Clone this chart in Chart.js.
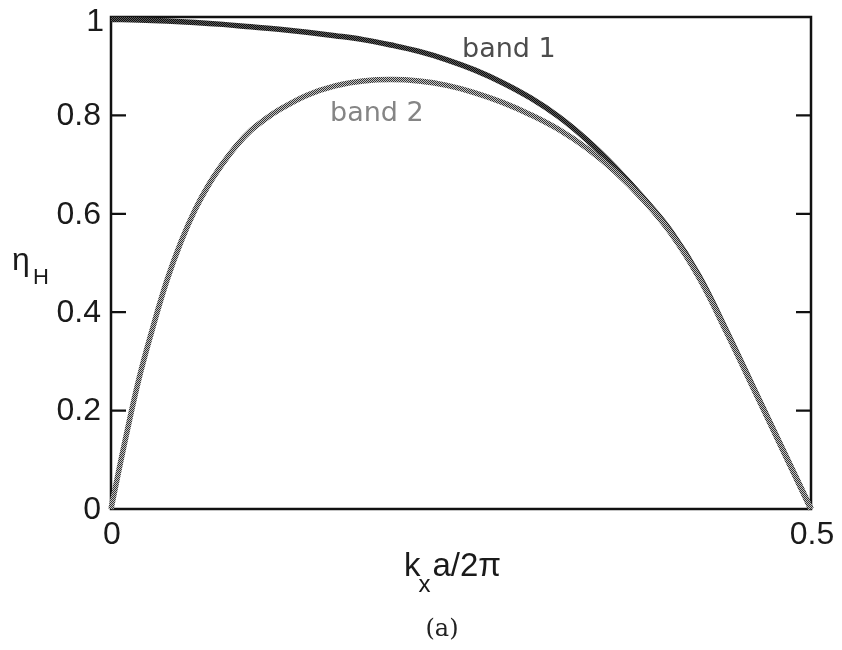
<!DOCTYPE html>
<html>
<head>
<meta charset="utf-8">
<title>eta_H vs kx</title>
<script src="https://cdn.jsdelivr.net/npm/chart.js@4.4.1/dist/chart.umd.min.js"></script>
<style>
  html, body { margin: 0; padding: 0; background: #fff; }
  canvas { display: block; }
</style>
</head>
<body>
<canvas id="plot" width="842" height="650"></canvas>
<script>
// kx a / 2pi sample positions and the two band curves
const band1X = [0, 0.02, 0.04, 0.06, 0.08, 0.10, 0.12, 0.14, 0.16, 0.18, 0.20, 0.22, 0.24, 0.26, 0.28, 0.30, 0.32, 0.34, 0.36, 0.38, 0.40, 0.42, 0.44, 0.46, 0.48, 0.50];
const band1Y = [0.995, 0.994, 0.992, 0.989, 0.985, 0.980, 0.975, 0.969, 0.962, 0.954, 0.943, 0.930, 0.913, 0.892, 0.866, 0.835, 0.797, 0.750, 0.695, 0.633, 0.564, 0.474, 0.360, 0.240, 0.120, 0];

const band2X = [0, 0.01, 0.02, 0.03, 0.04, 0.05, 0.06, 0.07, 0.08, 0.09, 0.10, 0.11, 0.12, 0.14, 0.16, 0.18, 0.20, 0.22, 0.24, 0.26, 0.28, 0.30, 0.32, 0.34, 0.36, 0.38, 0.40, 0.42, 0.44, 0.46, 0.48, 0.50];
const band2Y = [0, 0.138, 0.265, 0.370, 0.465, 0.543, 0.608, 0.660, 0.703, 0.740, 0.770, 0.792, 0.811, 0.841, 0.860, 0.870, 0.873, 0.870, 0.861, 0.846, 0.826, 0.801, 0.771, 0.733, 0.686, 0.629, 0.560, 0.470, 0.357, 0.238, 0.119, 0];

const xTicks = [0, 0.5];
const xTickLabels = ['0', '0.5'];
const yTicks = [0, 0.2, 0.4, 0.6, 0.8, 1];
const yTickLabels = ['0', '0.2', '0.4', '0.6', '0.8', '1'];

const SANS = '"Liberation Sans", Arial, sans-serif';
const LABEL_FONT = '"DejaVu Sans", sans-serif';

function toPoints(xs, ys) {
    return xs.map((x, i) => ({ x: x, y: ys[i] }));
}

// small checker tile so the curves get a printed, screened look
function halftone(ink, paper) {
    const c = document.createElement('canvas');
    c.width = 2;
    c.height = 2;
    const g = c.getContext('2d');
    g.fillStyle = paper;
    g.fillRect(0, 0, 2, 2);
    g.fillStyle = ink;
    g.fillRect(0, 0, 1, 1);
    g.fillRect(1, 1, 1, 1);
    return g.createPattern(c, 'repeat');
}

const framePlugin = {
    id: 'frame',
    beforeDatasetsDraw(chart) {
        const { ctx, chartArea: a } = chart;
        const ys = chart.scales.y;
        ctx.save();
        ctx.strokeStyle = '#111';
        ctx.lineWidth = 2.5;
        ctx.strokeRect(a.left, a.top, a.right - a.left, a.bottom - a.top);
        // inward ticks on left and right sides
        ctx.lineWidth = 2.2;
        yTicks.forEach(v => {
            const py = ys.getPixelForValue(v);
            ctx.beginPath();
            ctx.moveTo(a.left, py);
            ctx.lineTo(a.left + 15, py);
            ctx.moveTo(a.right, py);
            ctx.lineTo(a.right - 15, py);
            ctx.stroke();
        });
        ctx.restore();
    },
    afterDraw(chart) {
        const { ctx, chartArea: a } = chart;
        const xs = chart.scales.x;
        const ys = chart.scales.y;
        ctx.save();
        ctx.fillStyle = '#1a1a1a';
        ctx.font = '32px ' + SANS;

        // y tick labels
        ctx.textAlign = 'right';
        ctx.textBaseline = 'middle';
        yTicks.forEach((v, i) => {
            let py = ys.getPixelForValue(v);
            let px = a.left - 10;
            if (v === 1) { py += 4; px += 3; }
            ctx.fillText(yTickLabels[i], px, py + 1);
        });

        // x tick labels
        ctx.textAlign = 'center';
        ctx.textBaseline = 'top';
        xTicks.forEach((v, i) => {
            ctx.fillText(xTickLabels[i], xs.getPixelForValue(v) + 1, a.bottom + 10);
        });

        // x axis title: k_x a/2π
        ctx.textAlign = 'left';
        ctx.textBaseline = 'alphabetic';
        ctx.font = '33px ' + SANS;
        let tx = 404;
        ctx.fillText('k', tx, 576);
        tx += ctx.measureText('k').width - 2;
        ctx.font = '24px ' + SANS;
        ctx.fillText('x', tx, 592);
        tx += ctx.measureText('x').width + 2;
        ctx.font = '33px ' + SANS;
        ctx.fillText('a/2π', tx, 576);

        // y axis title: η_H
        ctx.font = '32px ' + SANS;
        ctx.fillText('η', 12, 270);
        ctx.font = '22px ' + SANS;
        ctx.fillText('H', 33, 284);

        // band labels
        ctx.font = '27px ' + LABEL_FONT;
        ctx.fillStyle = '#4d4d4d';
        ctx.fillText('band 1', 462, 57);
        ctx.fillStyle = '#858585';
        ctx.fillText('band 2', 330, 121);

        // caption
        ctx.fillStyle = '#222';
        ctx.font = '24px "DejaVu Serif", "Liberation Serif", serif';
        ctx.textAlign = 'center';
        ctx.fillText('(a)', 442, 636);
        ctx.restore();
    }
};

const curveStyle = {
    borderWidth: 5.5,
    pointRadius: 0,
    tension: 0.4,
    clip: false
};

const chart = new Chart(document.getElementById('plot'), {
    type: 'line',
    data: {
        datasets: [
            Object.assign({
                label: 'band 2',
                data: toPoints(band2X, band2Y),
                borderColor: halftone('#333', '#c4c4c4')
            }, curveStyle),
            Object.assign({
                label: 'band 1',
                data: toPoints(band1X, band1Y),
                borderColor: halftone('#0e0e0e', '#5c5c5c')
            }, curveStyle)
        ]
    },
    options: {
        responsive: false,
        animation: false,
        events: [],
        layout: { padding: { left: 111, right: 31, top: 17, bottom: 141 } },
        plugins: {
            legend: { display: false },
            tooltip: { enabled: false }
        },
        scales: {
            x: { type: 'linear', min: 0, max: 0.5, display: false },
            y: { type: 'linear', min: 0, max: 1, display: false }
        }
    },
    plugins: [framePlugin]
});
</script>
</body>
</html>
